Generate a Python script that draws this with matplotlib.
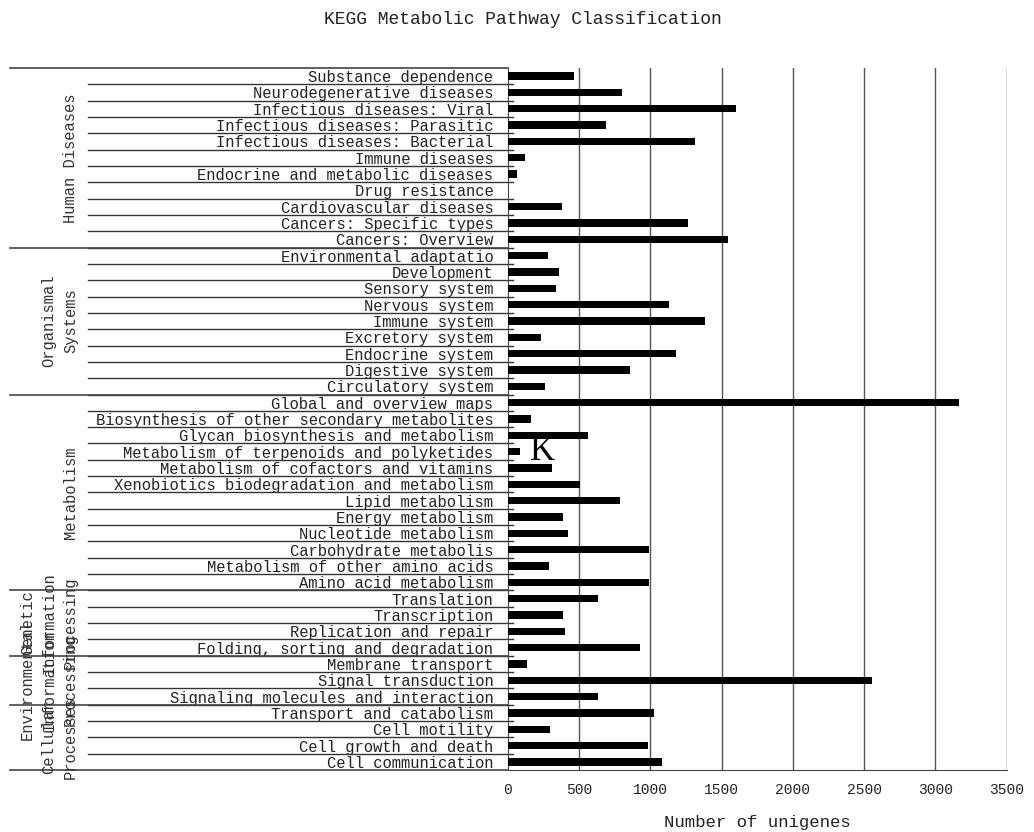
import matplotlib
matplotlib.use("Agg")
import matplotlib.pyplot as plt
from matplotlib.transforms import blended_transform_factory

categories = [
    "Substance dependence", "Neurodegenerative diseases", "Infectious diseases: Viral",
    "Infectious diseases: Parasitic", "Infectious diseases: Bacterial", "Immune diseases",
    "Endocrine and metabolic diseases", "Drug resistance", "Cardiovascular diseases",
    "Cancers: Specific types", "Cancers: Overview",
    "Environmental adaptatio", "Development", "Sensory system", "Nervous system",
    "Immune system", "Excretory system", "Endocrine system", "Digestive system",
    "Circulatory system",
    "Global and overview maps", "Biosynthesis of other secondary metabolites",
    "Glycan biosynthesis and metabolism", "Metabolism of terpenoids and polyketides",
    "Metabolism of cofactors and vitamins", "Xenobiotics biodegradation and metabolism",
    "Lipid metabolism", "Energy metabolism", "Nucleotide metabolism",
    "Carbohydrate metabolis", "Metabolism of other amino acids", "Amino acid metabolism",
    "Translation", "Transcription", "Replication and repair",
    "Folding, sorting and degradation",
    "Membrane transport", "Signal transduction", "Signaling molecules and interaction",
    "Transport and catabolism", "Cell motility", "Cell growth and death",
    "Cell communication",
]
values = [
    462, 797, 1600, 689, 1315, 117, 61, 0, 376, 1266, 1544,
    283, 360, 339, 1128, 1381, 229, 1182, 855, 262,
    3168, 159, 558, 84, 308, 505, 787, 388, 420, 990, 290, 993,
    633, 388, 399, 927,
    135, 2553, 633,
    1023, 297, 981, 1079,
]
groups = [
    ("Human Diseases", 11),
    ("Organismal\nSystems", 9),
    ("Metabolism", 12),
    ("Genetic\nInformation\nProcessing", 4),
    ("Environmental\nInformation\nProcessing", 3),
    ("Cellular\nProcesses", 4),
]
xticks = [0, 500, 1000, 1500, 2000, 2500, 3000, 3500]

FONT = "Liberation Mono"
W, H = 1034, 832
fig = plt.figure(figsize=(W / 100, H / 100), dpi=100)
ax = fig.add_axes([508 / W, 1 - 770 / H, (1006.7 - 508) / W, (770 - 68) / H])

n = len(categories)
ypos = [n - 1 - i for i in range(n)]
ax.barh(ypos, values, height=0.45, color="black", zorder=3)
ax.set_ylim(-0.5, n - 0.5)
ax.set_xlim(0, 3500)

ax.set_xticks(xticks)
ax.set_xticklabels([str(t) for t in xticks], fontfamily=FONT, fontsize=10.5, color="#222222")
ax.tick_params(axis="x", length=0, pad=9)
ax.set_yticks(ypos)
ax.set_yticklabels(categories, fontfamily=FONT, fontsize=11.2, color="#222222")
ax.tick_params(axis="y", length=0, pad=10.5)
ax.set_xlabel("Number of unigenes", fontfamily=FONT, fontsize=12.5, color="#222222", labelpad=13)

for x in xticks[1:]:
    ax.axvline(x, color="#555555", linewidth=1, zorder=1)
for s in ["top", "right"]:
    ax.spines[s].set_visible(False)
ax.spines["left"].set_color("#444444")
ax.spines["bottom"].set_color("#444444")

tr = blended_transform_factory(fig.transFigure, ax.transData)
# row boundary lines
for k in range(1, n):
    y = k - 0.5
    ax.plot([88 / W, 513 / W], [y, y], transform=tr, color="#333333", lw=1, clip_on=False)

# group boundary lines and labels
start = 0
bounds = [0]
for name, cnt in groups:
    start += cnt
    bounds.append(start)
for b in bounds:
    y = n - 0.5 - b
    ax.plot([10 / W, 508 / W], [y, y], transform=tr, color="#444444", lw=1.2, clip_on=False)
for (name, cnt), b0, b1 in zip(groups, bounds[:-1], bounds[1:]):
    yc = n - 0.5 - (b0 + b1) / 2
    ax.text(78 / W, yc, name, transform=tr, rotation=90, ha="right", va="center",
            multialignment="center", fontfamily=FONT, fontsize=11.2, color="#333333",
            linespacing=1.55)

fig.text(523 / W, 1 - 20 / H, "KEGG Metabolic Pathway Classification",
         ha="center", va="center", fontfamily=FONT, fontsize=13, color="#222222")
fig.text(543 / W, 1 - 451 / H, "K", ha="center", va="center",
         fontfamily="Liberation Serif", fontsize=25, color="black")

fig.savefig("out.png", dpi=100, facecolor="white")
